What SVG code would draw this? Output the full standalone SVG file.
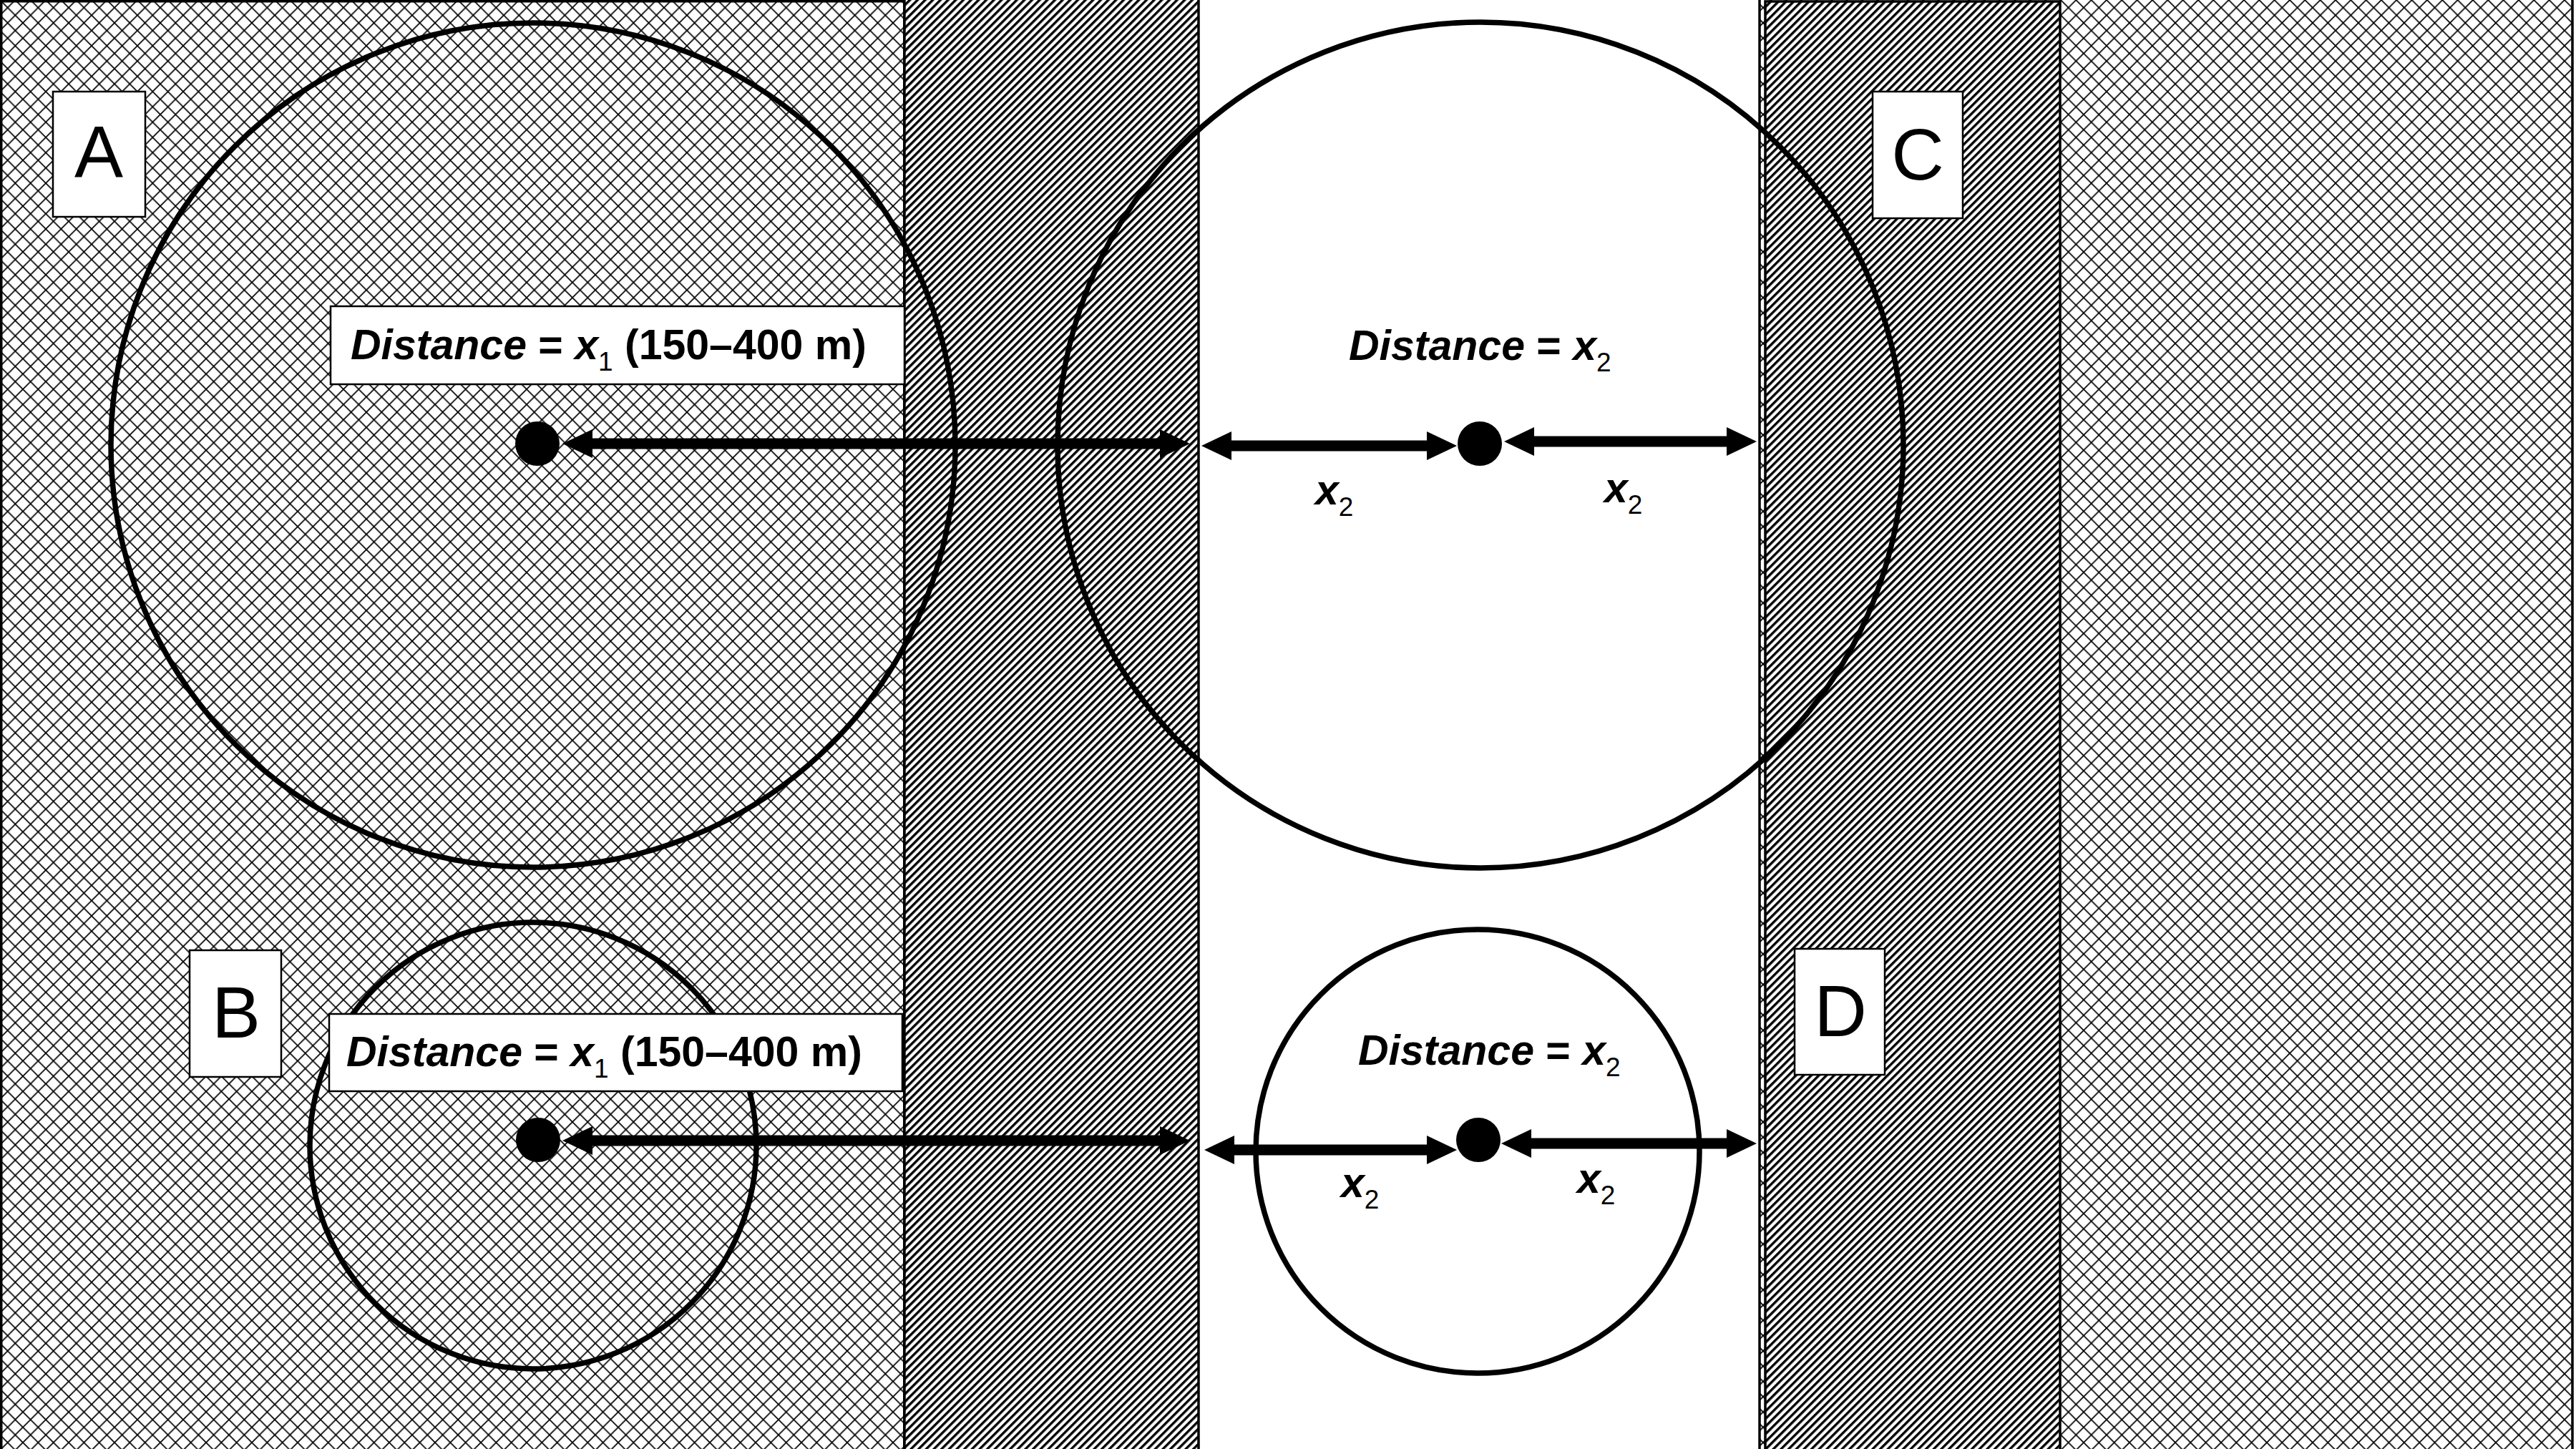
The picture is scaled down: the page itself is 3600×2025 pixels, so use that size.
<svg xmlns="http://www.w3.org/2000/svg" width="3600" height="2025" viewBox="0 0 3600 2025">
  <defs>
    <pattern id="cross" patternUnits="userSpaceOnUse" width="21.333" height="21.333">
      <rect width="21.333" height="21.333" fill="#fff"/>
      <path d="M0,0 L21.333,21.333 M0,21.333 L21.333,0" stroke="#000" stroke-width="1.7" fill="none"/>
    </pattern>
    <pattern id="diag" patternUnits="userSpaceOnUse" width="7.542" height="7.542" patternTransform="rotate(45)">
      <rect width="7.542" height="7.542" fill="#fff"/>
      <rect width="3.4" height="7.542" fill="#000"/>
    </pattern>
    <marker id="ah" markerUnits="userSpaceOnUse" viewBox="0 0 42 42" markerWidth="42" markerHeight="42" refX="0" refY="21" orient="auto-start-reverse">
      <path d="M-2,0 L42,21 L-2,42 z" fill="#000"/>
    </marker>
  </defs>
  <style>
    .zone { stroke: #000; stroke-width: 3.5; }
    .ring { fill: none; stroke: #000; stroke-width: 7.5; }
    .box { fill: #fff; stroke: #000; stroke-width: 2.5; }
    .letter { font-family: "Liberation Sans", Arial, sans-serif; font-size: 102px; fill: #000; text-anchor: middle; }
    .lbl { font-family: "Liberation Sans", Arial, sans-serif; font-size: 59px; font-weight: bold; fill: #000; }
    .it { font-style: italic; }
    .sub { font-size: 37px; font-weight: normal; font-style: normal; }
    .dot { fill: #000; }
    .arrow { stroke: #000; stroke-width: 15; fill: none; marker-start: url(#ah); marker-end: url(#ah); }
  </style>

  <rect width="3600" height="2025" fill="#fff"/>

  <g id="regions">
    <rect class="zone" x="1.75" y="1.75" width="1262" height="2100" fill="url(#cross)"/>
    <rect class="zone" x="1264" y="-20" width="411" height="2100" fill="url(#diag)"/>
    <rect class="zone" x="2459" y="-20" width="1136" height="2100" fill="url(#cross)"/>
    <rect class="zone" x="2467" y="2" width="412" height="2100" fill="url(#diag)"/>
  </g>

  <g id="circle-A"><circle class="ring" cx="745" cy="622" r="590"/></g>
  <g id="circle-C"><circle class="ring" cx="2069" cy="622" r="591"/></g>
  <g id="circle-B"><circle class="ring" cx="745" cy="1601" r="312"/></g>
  <g id="circle-D"><circle class="ring" cx="2065" cy="1609" r="310"/></g>

  <g id="label-A">
    <rect class="box" x="74" y="128" width="129" height="175"/>
    <text class="letter" x="138" y="248">A</text>
  </g>
  <g id="label-B">
    <rect class="box" x="265" y="1328" width="128" height="177"/>
    <text class="letter" x="330" y="1450">B</text>
  </g>
  <g id="label-C">
    <rect class="box" x="2617" y="128" width="126" height="177"/>
    <text class="letter" x="2680" y="251">C</text>
  </g>
  <g id="label-D">
    <rect class="box" x="2508" y="1326" width="126" height="176"/>
    <text class="letter" x="2572" y="1448">D</text>
  </g>

  <g id="distance-A">
    <rect class="box" x="462" y="428" width="802" height="109"/>
    <text class="lbl" x="490" y="502"><tspan class="it">Distance</tspan> = <tspan class="it">x</tspan><tspan class="sub" dy="16">1</tspan><tspan dy="-16"> (150–400 m)</tspan></text>
  </g>
  <g id="distance-B">
    <rect class="box" x="460" y="1417" width="801" height="108"/>
    <text class="lbl" x="484" y="1490"><tspan class="it">Distance</tspan> = <tspan class="it">x</tspan><tspan class="sub" dy="16">1</tspan><tspan dy="-16"> (150–400 m)</tspan></text>
  </g>
  <g id="distance-C">
    <text class="lbl" x="1885" y="503"><tspan class="it">Distance</tspan> = <tspan class="it">x</tspan><tspan class="sub" dy="16">2</tspan></text>
  </g>
  <g id="distance-D">
    <text class="lbl" x="1898" y="1488"><tspan class="it">Distance</tspan> = <tspan class="it">x</tspan><tspan class="sub" dy="16">2</tspan></text>
  </g>

  <g id="points">
    <circle class="dot" cx="751" cy="620" r="31"/>
    <circle class="dot" cx="2068" cy="620" r="31"/>
    <circle class="dot" cx="752" cy="1593" r="31"/>
    <circle class="dot" cx="2066" cy="1593" r="31"/>
  </g>

  <g id="connectors">
    <line class="arrow" x1="828" y1="620" x2="1621" y2="620"/>
    <line class="arrow" x1="1721" y1="623" x2="1994" y2="623"/>
    <line class="arrow" x1="2144" y1="617" x2="2413" y2="617"/>
    <line class="arrow" x1="828" y1="1594" x2="1621" y2="1594"/>
    <line class="arrow" x1="1725" y1="1607" x2="1994" y2="1607"/>
    <line class="arrow" x1="2140" y1="1598" x2="2413" y2="1598"/>
  </g>

  <g id="arrow-labels">
    <text class="lbl" x="1838" y="705"><tspan class="it">x</tspan><tspan class="sub" dy="16">2</tspan></text>
    <text class="lbl" x="2242" y="702"><tspan class="it">x</tspan><tspan class="sub" dy="16">2</tspan></text>
    <text class="lbl" x="1874" y="1673"><tspan class="it">x</tspan><tspan class="sub" dy="16">2</tspan></text>
    <text class="lbl" x="2204" y="1667"><tspan class="it">x</tspan><tspan class="sub" dy="16">2</tspan></text>
  </g>
</svg>
